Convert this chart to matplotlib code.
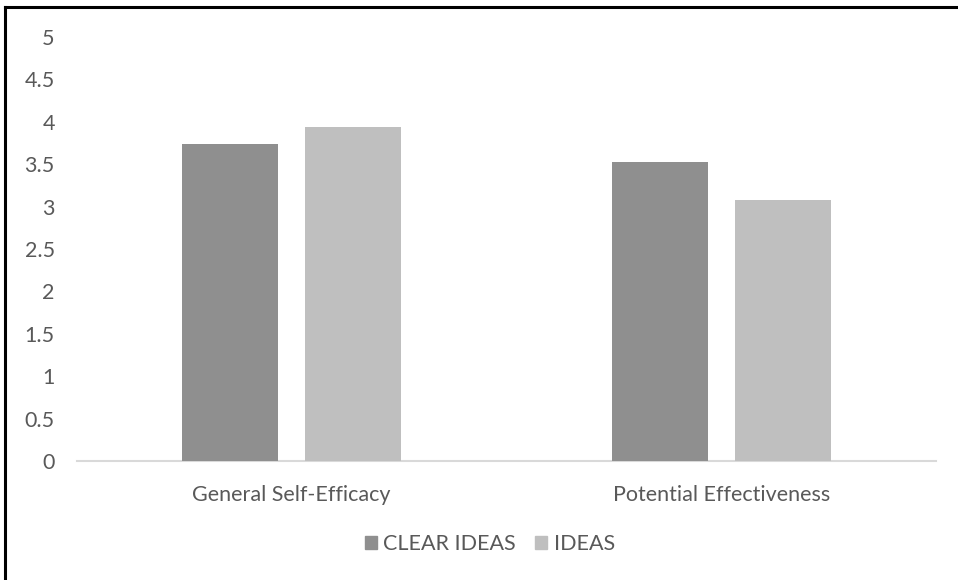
import matplotlib

matplotlib.use("Agg")
import matplotlib.pyplot as plt
import numpy as np
from matplotlib.lines import Line2D
from matplotlib.patches import Patch

categories = ["General Self-Efficacy", "Potential Effectiveness"]
series_names = ["CLEAR IDEAS", "IDEAS"]
clear_ideas = [3.74, 3.53]
ideas = [3.94, 3.08]
y_ticks = [0, 0.5, 1, 1.5, 2, 2.5, 3, 3.5, 4, 4.5, 5]

DARK = "#8f8f8f"
LIGHT = "#bfbfbf"
TEXT = "#595959"

plt.rcParams["font.family"] = ["Lato", "DejaVu Sans"]

W, H = 958, 580
fig = plt.figure(figsize=(W / 100, H / 100), dpi=100)
ax = fig.add_axes([77 / W, 119 / H, (936 - 77) / W, (461 - 37) / H])

x = np.arange(len(categories))
width = 0.223
offset = 0.143
ax.bar(x - offset, clear_ideas, width=width, color=DARK, label=series_names[0], zorder=3)
ax.bar(x + offset, ideas, width=width, color=LIGHT, label=series_names[1], zorder=3)

ax.set_xlim(-0.5, 1.5)
ax.set_ylim(0, 5)
ax.set_yticks(y_ticks)
ax.set_yticklabels([f"{v:g}" for v in y_ticks])
ax.set_xticks(x)
ax.set_xticklabels(categories)
ax.tick_params(axis="both", length=0, labelsize=15.5, labelcolor=TEXT)
ax.tick_params(axis="y", pad=16)
ax.tick_params(axis="x", pad=17)

for side in ["top", "right", "left"]:
    ax.spines[side].set_visible(False)
ax.spines["bottom"].set_color("#d9d9d9")
ax.spines["bottom"].set_linewidth(1.5)

handles = [Patch(color=DARK), Patch(color=LIGHT)]
fig.legend(
    handles,
    series_names,
    loc="center",
    bbox_to_anchor=(490 / W, 1 - 544 / H),
    ncol=2,
    frameon=False,
    fontsize=15.5,
    labelcolor=TEXT,
    handlelength=0.55,
    handleheight=0.55,
    handletextpad=0.3,
    columnspacing=0.9,
)

# black frame on top and left edge
fig.add_artist(Line2D([5 / W, 1], [1 - 7 / H, 1 - 7 / H], color="black", lw=2.2))
fig.add_artist(Line2D([5 / W, 5 / W], [0, 1 - 7 / H], color="black", lw=2.2))

fig.savefig("out.png", dpi=100)
